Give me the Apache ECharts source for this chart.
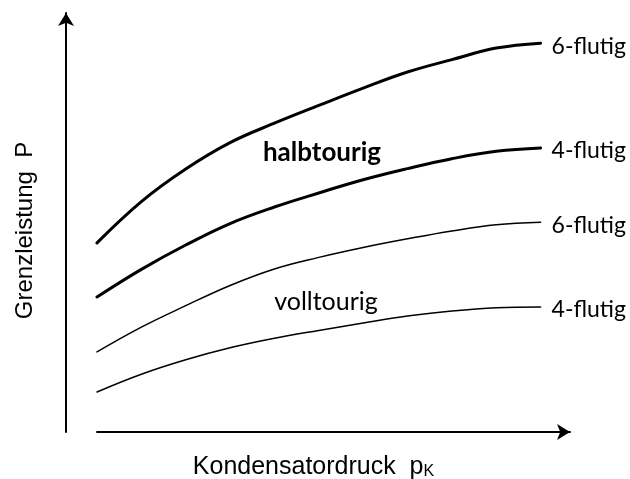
<!DOCTYPE html>
<html>
<head>
<meta charset="utf-8">
<script src="https://cdn.jsdelivr.net/npm/echarts@6/dist/echarts.min.js"></script>
<style>
  html, body { margin: 0; padding: 0; background: #fff; }
  #chart { width: 630px; height: 479px; }
</style>
</head>
<body>
<div id="chart"></div>
<script>
// Kondensatordruck (arbitrary units, no scale shown)
var pK = [0, 9.5, 19, 28.5, 38, 47.5, 57, 66.5, 76, 85.5, 95];
// Grenzleistung
var halb6 = [45.8, 55.8, 63.7, 70.1, 74.8, 79.1, 83.3, 87.2, 90.2, 93.0, 94.2];
var halb4 = [32.7, 39.4, 45.3, 50.5, 54.5, 57.9, 61.1, 63.8, 66.2, 68.0, 68.8];
var voll6 = [19.4, 25.4, 30.6, 35.5, 39.5, 42.3, 44.7, 46.8, 48.7, 50.2, 50.8];
var voll4 = [9.7, 14.0, 17.5, 20.4, 22.7, 24.6, 26.4, 28.1, 29.3, 30.1, 30.3];

function pairs(ys) {
  return pK.map(function (x, i) { return [x, ys[i]]; });
}

function curve(name, ys, width) {
  return {
    name: name,
    type: 'line',
    data: pairs(ys),
    smooth: 0.4,
    symbol: 'none',
    silent: true,
    lineStyle: { color: '#000', width: width, cap: 'round' },
    endLabel: {
      show: true,
      formatter: name,
      distance: 11,
      offset: [0, 3],
      color: '#000',
      fontFamily: 'Lato',
      fontSize: 23
    }
  };
}

var myChart = echarts.init(document.getElementById('chart'));
var option = {
  animation: false,
  backgroundColor: '#fff',
  grid: { left: 97, right: 60, top: 13, bottom: 47, outerBoundsMode: 'none', containLabel: false },
  xAxis: {
    type: 'value',
    min: 0,
    max: 101.3,
    name: 'Kondensatordruck  {p|p}{sub|K}',
    nameLocation: 'middle',
    nameGap: 22,
    nameTextStyle: {
      color: '#000',
      fontFamily: 'Liberation Sans',
      fontSize: 25,
      padding: [0, 40, 0, 0],
      rich: {
        p: { fontFamily: 'Liberation Sans', fontSize: 25, color: '#000' },
        sub: { fontFamily: 'Liberation Sans', fontSize: 16, color: '#000', padding: [10, 0, 0, 0] }
      }
    },
    axisLine: {
      show: true,
      onZero: false,
      symbol: ['none', 'arrow'],
      symbolSize: [12, 13],
      lineStyle: { color: '#000', width: 2 }
    },
    axisTick: { show: false },
    axisLabel: { show: false },
    splitLine: { show: false }
  },
  yAxis: {
    type: 'value',
    min: 0,
    max: 101.5,
    offset: 31,
    name: 'Grenzleistung  P',
    nameLocation: 'middle',
    nameRotate: 90,
    nameGap: 29,
    nameTextStyle: {
      color: '#000',
      fontFamily: 'Liberation Sans',
      fontSize: 24,
      padding: [0, 16, 0, 0]
    },
    axisLine: {
      show: true,
      onZero: false,
      symbol: ['none', 'arrow'],
      symbolSize: [12, 13],
      lineStyle: { color: '#000', width: 2 }
    },
    axisTick: { show: false },
    axisLabel: { show: false },
    splitLine: { show: false }
  },
  graphic: [
    {
      type: 'text', x: 322, y: 153,
      style: { text: 'halbtourig', fill: '#000', font: 'bold 26px Lato', align: 'center', verticalAlign: 'middle' }
    },
    {
      type: 'text', x: 326, y: 302,
      style: { text: 'volltourig', fill: '#000', font: '25px Lato', align: 'center', verticalAlign: 'middle' }
    }
  ],
  series: [
    curve('6-flutig', halb6, 3),
    curve('4-flutig', halb4, 3),
    curve('6-flutig', voll6, 1.5),
    curve('4-flutig', voll4, 1.5)
  ]
};
myChart.setOption(option);
</script>
</body>
</html>
